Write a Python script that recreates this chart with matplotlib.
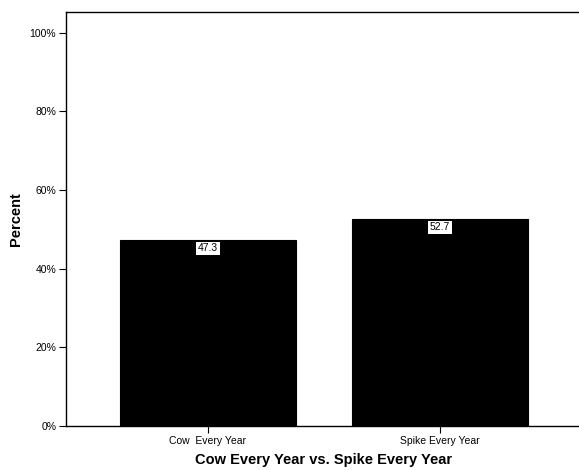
import numpy as np
import matplotlib.pyplot as plt
from matplotlib.ticker import FuncFormatter

plt.rcParams['font.family'] = ['Liberation Sans', 'DejaVu Sans']

categories = ['Cow  Every Year', 'Spike Every Year']
percents = [47.3, 52.7]
yticks = [0, 20, 40, 60, 80, 100]

fig = plt.figure(figsize=(5.79, 4.70), dpi=100)
ax = fig.add_axes([66 / 579, 1 - 426 / 470, (582 - 66) / 579, (426 - 12) / 470])

x = np.arange(len(categories))
ax.bar(x, percents, width=0.76, color='black', edgecolor='black', linewidth=0.8)

for xi, v in zip(x, percents):
    ax.annotate(f'{v:.1f}', (xi, v), xytext=(0, -6), textcoords='offset points',
                ha='center', va='center', fontsize=7.5,
                bbox=dict(boxstyle='square,pad=0.15', fc='white', ec='none'))

ax.set_xlim(-0.612, 1.612)
ax.set_ylim(0, 105.3)
ax.set_yticks(yticks)
ax.yaxis.set_major_formatter(FuncFormatter(lambda v, p: f'{v:.0f}%'))
ax.set_xticks(x)
ax.set_xticklabels(categories)
ax.tick_params(axis='both', labelsize=7.5, length=5, width=0.8, direction='out', pad=2)
ax.tick_params(axis='x', pad=2)

for s in ax.spines.values():
    s.set_linewidth(1.0)

ax.set_ylabel('Percent', fontsize=10.5, fontweight='bold', labelpad=5)
ax.set_xlabel('Cow Every Year vs. Spike Every Year', fontsize=10.5, fontweight='bold', labelpad=5)

fig.savefig('out.png', dpi=100)
